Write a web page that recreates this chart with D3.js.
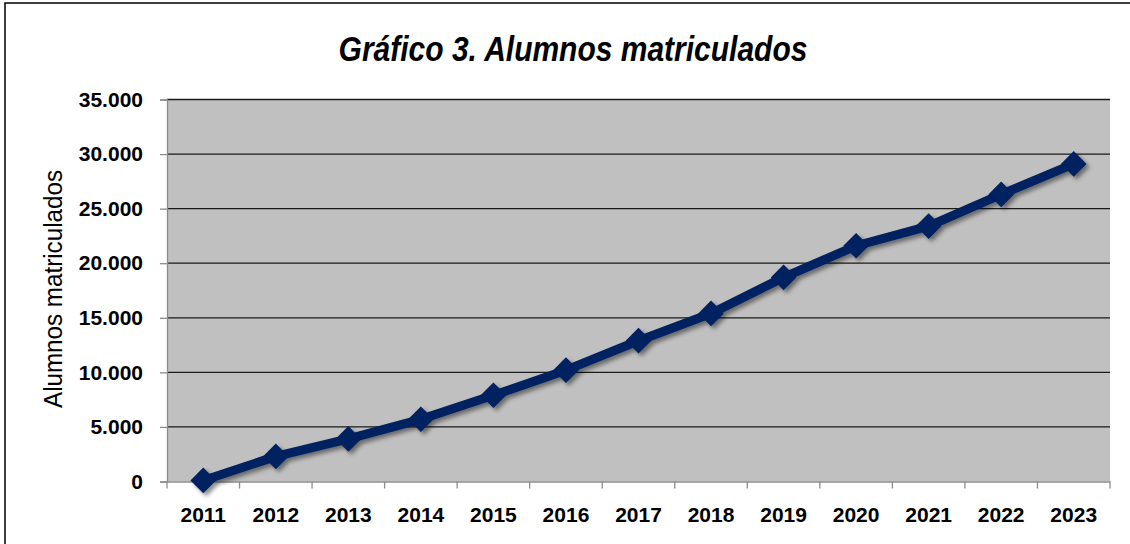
<!DOCTYPE html>
<html>
<head>
<meta charset="utf-8">
<script src="https://cdn.jsdelivr.net/npm/d3@7"></script>
<style>
  body { margin: 0; background: #fff; }
  svg { display: block; }
</style>
</head>
<body>
<svg id="chart" width="1130" height="544"></svg>
<script>
// datos
const years = ["2011","2012","2013","2014","2015","2016","2017","2018","2019","2020","2021","2022","2023"];
const alumnos = [100, 2300, 3900, 5700, 7900, 10200, 12900, 15400, 18700, 21600, 23400, 26300, 29100];
const yTicks = [0, 5000, 10000, 15000, 20000, 25000, 30000, 35000];

const svg = d3.select("#chart");
const plotL = 167, plotR = 1110, plotT = 99.5, plotB = 481.5;

// marco exterior
svg.append("rect")
  .attr("x", 5).attr("y", 3).attr("width", 1140).attr("height", 560)
  .attr("fill", "#fff").attr("stroke", "#000").attr("stroke-width", 1.5);

const x = d3.scaleBand().domain(years).range([plotL, plotR]);
const y = d3.scaleLinear().domain([0, 35000]).range([plotB, plotT]);

const fmt = d => d3.format(",")(d).replace(/,/g, ".");

// sombra de los puntos
const defs = svg.append("defs");
const f = defs.append("filter").attr("id", "sombra")
  .attr("x", "-50%").attr("y", "-50%").attr("width", "200%").attr("height", "200%");
f.append("feDropShadow").attr("dx", 3).attr("dy", 3).attr("stdDeviation", 2)
  .attr("flood-color", "#000").attr("flood-opacity", 0.45);

// area de trazado
svg.append("rect")
  .attr("x", plotL).attr("y", plotT).attr("width", plotR - plotL).attr("height", plotB - plotT)
  .attr("fill", "#c0c0c0");

// lineas de division
svg.append("g").selectAll("line")
  .data(yTicks.filter(d => d > 0))
  .join("line")
  .attr("x1", plotL).attr("x2", plotR)
  .attr("y1", d => y(d)).attr("y2", d => y(d))
  .attr("stroke", "#1a1a1a").attr("stroke-width", 1.3);

// eje Y
const yAxis = svg.append("g")
  .attr("transform", `translate(${plotL},0)`)
  .call(d3.axisLeft(y).tickValues(yTicks).tickFormat(fmt).tickSize(7).tickPadding(17));
yAxis.select(".domain").attr("stroke", "#8c8c8c").attr("stroke-width", 1.3);
yAxis.selectAll(".tick line").attr("stroke", "#8c8c8c").attr("stroke-width", 1.3);
yAxis.selectAll("text")
  .attr("font-family", "'Liberation Sans', Arial, sans-serif")
  .attr("font-weight", "bold").attr("font-size", 21).attr("fill", "#000");

// eje X
const xAxis = svg.append("g")
  .attr("transform", `translate(0,${plotB})`)
  .call(d3.axisBottom(x).tickSize(0).tickPadding(26));
xAxis.select(".domain").attr("stroke", "#8c8c8c").attr("stroke-width", 1.3);
xAxis.selectAll("text")
  .attr("font-family", "'Liberation Sans', Arial, sans-serif")
  .attr("font-weight", "bold").attr("font-size", 21).attr("fill", "#000");
// marcas entre categorias
svg.append("g").selectAll("line")
  .data(years.concat(["fin"]))
  .join("line")
  .attr("x1", (d, i) => plotL + i * x.step()).attr("x2", (d, i) => plotL + i * x.step())
  .attr("y1", plotB).attr("y2", plotB + 7)
  .attr("stroke", "#8c8c8c").attr("stroke-width", 1.3);

// serie
const pts = years.map((yr, i) => [x(yr) + x.bandwidth() / 2, y(alumnos[i])]);
const g = svg.append("g").attr("filter", "url(#sombra)");
g.append("path")
  .attr("d", d3.line()(pts))
  .attr("fill", "none").attr("stroke", "#002060").attr("stroke-width", 9)
  .attr("stroke-linejoin", "round");
g.selectAll("path.pt")
  .data(pts)
  .join("path")
  .attr("class", "pt")
  .attr("d", d3.symbol(d3.symbolDiamond2, 420))
  .attr("transform", d => `translate(${d[0]},${d[1]})`)
  .attr("fill", "#002060");

// titulo
svg.append("text")
  .attr("transform", "translate(573,61) scale(1,1.15)")
  .attr("text-anchor", "middle")
  .attr("font-family", "'Liberation Sans', Arial, sans-serif")
  .attr("font-weight", "bold").attr("font-style", "italic").attr("font-size", 30)
  .text("Gráfico 3. Alumnos matriculados");

// titulo del eje Y
svg.append("text")
  .attr("transform", "translate(62,289) rotate(-90)")
  .attr("text-anchor", "middle")
  .attr("font-family", "'Liberation Sans', Arial, sans-serif")
  .attr("font-size", 26)
  .attr("textLength", 238).attr("lengthAdjust", "spacingAndGlyphs")
  .text("Alumnos matriculados");
</script>
</body>
</html>
